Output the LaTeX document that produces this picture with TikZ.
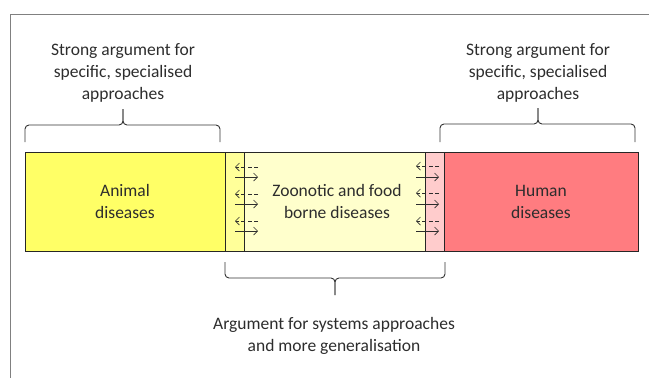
\documentclass[tikz,border=0pt]{standalone}
\usepackage{fontspec}
\setmainfont{Carlito}
\usetikzlibrary{arrows.meta,positioning}
\definecolor{animalcol}{RGB}{255,255,102}
\definecolor{animalovl}{RGB}{255,255,153}
\definecolor{zoocol}{RGB}{255,255,204}
\definecolor{humanovl}{RGB}{255,204,204}
\definecolor{humancol}{RGB}{255,124,128}
\definecolor{textcol}{RGB}{45,45,45}
\begin{document}
\begin{tikzpicture}[
  x=1pt, y=-1pt,
  node distance=0pt,
  every node/.style={font=\fontsize{17.5}{22}\selectfont, text=textcol},
  box/.style={draw=black!85, line width=0.9pt, minimum height=99pt, inner sep=0pt, outer sep=0pt, align=center},
  label/.style={align=center},
  brace/.style={draw=black!80, line width=0.9pt, rounded corners=4pt},
  fwd/.style={-{Straight Barb[length=4pt,width=8pt]}, draw=textcol, line width=0.7pt},
  back/.style={fwd, dash pattern=on 4pt off 2.5pt},
]
  \useasboundingbox (0,0) rectangle (649,378);
  % frame
  \draw[gray, line width=1.2pt] (10.5,378) |- (649,14.5);
  % bar of boxes
  \node[box, fill=animalcol, minimum width=200pt] (animal) at (125,201.5) {Animal\\diseases};
  \node[box, fill=animalovl, minimum width=19pt, right=of animal] (ovlleft) {};
  \node[box, fill=zoocol, minimum width=181pt, right=of ovlleft] (zoo) {};
  \node[box, fill=humanovl, minimum width=19pt, right=of zoo] (ovlright) {};
  \node[box, fill=humancol, minimum width=194pt, right=of ovlright] (human) {Human\\diseases};
  \node[label] (zootext) at (337,201.5) {Zoonotic and food\\borne diseases};
  % exchange arrows, left
  \draw[back] (258,167) -- (235,167);
  \draw[fwd] (235,177) -- (258,177);
  \draw[back] (258,194) -- (235,194);
  \draw[fwd] (235,204) -- (258,204);
  \draw[back] (258,221) -- (235,221);
  \draw[fwd] (235,231) -- (258,231);
  % exchange arrows, right
  \draw[back] (439,166) -- (416,166);
  \draw[fwd] (416,177) -- (439,177);
  \draw[back] (439,193) -- (416,193);
  \draw[fwd] (416,204) -- (439,204);
  \draw[back] (439,221) -- (416,221);
  \draw[fwd] (416,231) -- (439,231);
  % labels
  \node[label] (specleft) at (123,73) {Strong argument for\\specific, specialised\\approaches};
  \node[label] (specright) at (538,73) {Strong argument for\\specific, specialised\\approaches};
  \node[label] (systems) at (334,336) {Argument for systems approaches\\and more generalisation};
  % braces
  \draw[brace] (25,142) |- (123,125) -- (123,109);
  \draw[brace] (220,142) |- (123,125) -- (123,109);
  \draw[brace] (440,142) |- (538,124) -- (538,108);
  \draw[brace] (635,142) |- (538,124) -- (538,108);
  \draw[brace] (225,262) |- (335,278) -- (335,295);
  \draw[brace] (445,262) |- (335,278) -- (335,295);
\end{tikzpicture}
\end{document}
